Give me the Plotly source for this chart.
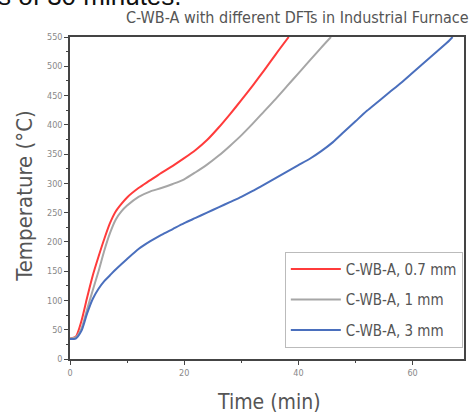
import plotly.graph_objects as go

# Data
t_red = [0, 1, 2, 3, 4, 5, 6, 7, 8, 9, 10, 12, 14, 16, 18, 20, 22, 24, 26, 28, 30, 32, 34, 36, 38.3]
T_red = [35, 38, 65, 105, 143, 175, 205, 232, 252, 265, 276, 292, 305, 318, 330, 343, 357, 374, 395, 418, 442, 467, 493, 520, 550]

t_gray = [0, 1, 2, 3, 4, 5, 6, 7, 8, 9, 10, 12, 14, 16, 18, 20, 22, 24, 26, 28, 30, 32, 34, 36, 38, 40, 42, 44, 45.7]
T_gray = [35, 37, 52, 85, 118, 150, 185, 215, 238, 252, 262, 277, 286, 292, 299, 307, 319, 332, 347, 364, 382, 402, 423, 444, 466, 488, 510, 532, 550]

t_blue = [0, 1, 2, 3, 4, 5, 6, 7, 8, 10, 12, 14, 16, 18, 20, 22, 24, 26, 28, 30, 32, 34, 36, 38, 40, 42, 44, 46, 48, 50, 52, 54, 56, 58, 60, 62, 64, 66, 67]
T_blue = [34, 35, 48, 78, 103, 120, 133, 143, 153, 171, 188, 201, 212, 222, 232, 241, 250, 259, 268, 277, 287, 298, 309, 320, 331, 342, 355, 370, 388, 406, 424, 440, 456, 472, 489, 506, 523, 540, 550]

names = ["C-WB-A, 0.7 mm", "C-WB-A, 1 mm", "C-WB-A, 3 mm"]
colors = ["#ff3b3b", "#a6a6a6", "#4a6fbd"]

FONT = "DejaVu Sans Condensed, Liberation Sans Narrow, Roboto, sans-serif"

fig = go.Figure()
for i, (x, y) in enumerate([(t_red, T_red), (t_gray, T_gray), (t_blue, T_blue)]):
    fig.add_trace(go.Scatter(x=x, y=y, mode="lines", name=names[i],
                             line=dict(color=colors[i], width=2, shape="spline", smoothing=0.7),
                             legendgroup=f"g{i}"))

axis_common = dict(showline=True, linecolor="#444", linewidth=1.5, mirror=True,
                   ticks="outside", ticklen=4, tickcolor="#444", showgrid=False, zeroline=False,
                   tickfont=dict(family=FONT, size=9, color="#888"),
                   minor=dict(ticks="outside", ticklen=2, tickcolor="#444"))

fig.update_layout(
    width=471, height=414,
    margin=dict(l=70, r=5, t=37, b=55),
    plot_bgcolor="white", paper_bgcolor="white",
    showlegend=True,
    title=dict(text="C-WB-A with different DFTs in Industrial Furnace",
               font=dict(family=FONT, size=16, color="#555"),
               x=0.995, xanchor="right", y=0.972, yanchor="top"),
    xaxis=dict(range=[0, 69], dtick=20, **axis_common),
    yaxis=dict(range=[0, 550], dtick=50, **axis_common),
    legend=dict(x=0.997, xanchor="right", y=0.035, yanchor="bottom",
                bordercolor="#bbb", borderwidth=1, bgcolor="white", itemwidth=50,
                font=dict(family=FONT, size=15, color="#555"), tracegroupgap=8),
)
fig.update_xaxes(minor=dict(dtick=10))
fig.update_yaxes(minor=dict(dtick=25))

# axis titles
fig.add_annotation(text="Time (min)", xref="paper", yref="paper", x=0.505, y=-0.134,
                   xanchor="center", yanchor="middle", showarrow=False,
                   font=dict(family=FONT, size=21, color="#555"))
fig.add_annotation(text="Temperature (°C)", xref="paper", yref="paper", x=-0.116, y=0.505,
                   xanchor="center", yanchor="middle", textangle=-90, showarrow=False,
                   font=dict(family=FONT, size=22, color="#555"))

fig.add_annotation(text="s of 30 minutes.", xref="paper", yref="paper",
                   x=-0.187, y=1.075, xanchor="left", yanchor="bottom", showarrow=False,
                   font=dict(family="Liberation Sans, Arial", size=26, color="#111"))

fig.write_html("out.html", config={"displayModeBar": False},
               post_script="document.body.style.margin='0';document.body.style.overflow='hidden';")
